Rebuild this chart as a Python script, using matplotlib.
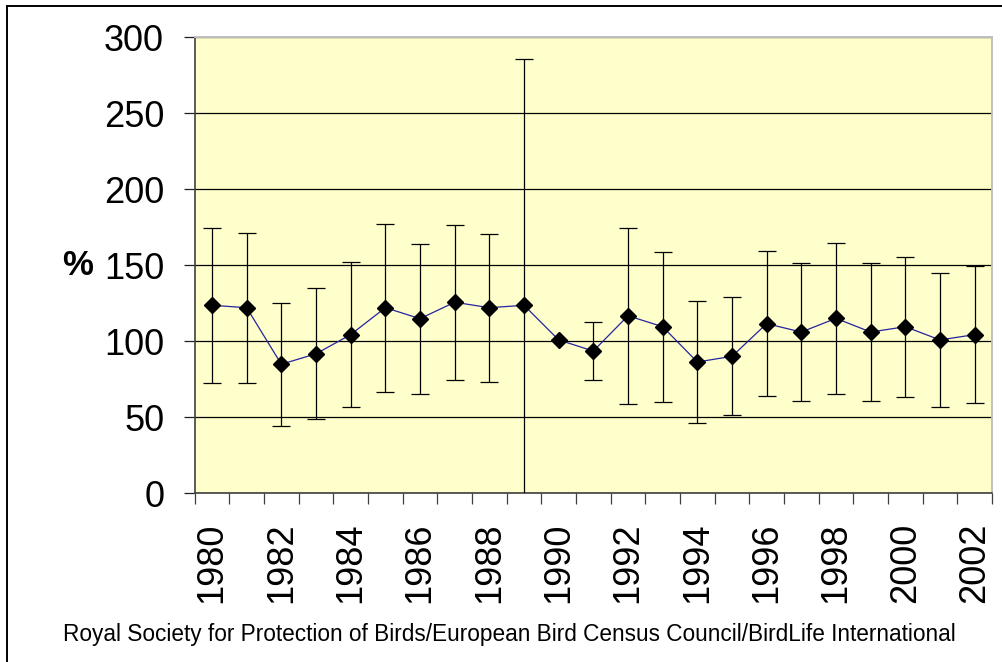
import numpy as np
import matplotlib.pyplot as plt
from matplotlib.lines import Line2D

plt.rcParams['font.family'] = ['Liberation Sans', 'DejaVu Sans']

# Index (%) per year with symmetric confidence range
years = list(range(1980, 2003))
index_pct = [123.7, 122.1, 84.9, 91.8, 104.4, 122.1, 114.9, 125.7, 122.1, 123.7,
             100.9, 93.6, 116.8, 109.6, 86.4, 90.1, 111.6, 106.1, 115.1, 106.1,
             109.6, 100.9, 104.4]
err_pct = [51.0, 49.2, 40.4, 43.2, 47.8, 55.3, 49.4, 51.0, 48.8, 162.2,
           np.nan, 19.3, 58.0, 49.4, 40.0, 38.9, 47.5, 45.2, 49.6, 45.2,
           46.0, 44.2, 45.2]
source = ('Royal Society for Protection of Birds/European Bird Census Council/'
          'BirdLife International')

x = np.arange(len(years))

fig = plt.figure(figsize=(10.02, 6.62), dpi=100)
ax = fig.add_axes([0.1943, 0.2548, 0.7957, 0.6889])
ax.set_facecolor('#ffffcc')

ax.errorbar(x, index_pct, yerr=err_pct, fmt='none', ecolor='black',
            elinewidth=0.9, capsize=6.8, capthick=0.9, zorder=3)
ax.plot(x, index_pct, color='#2424a0', lw=0.9, zorder=4)
ax.plot(x, index_pct, ls='none', marker='D', ms=7.9, color='black', zorder=5)

ax.set_xlim(-0.5, len(years) - 0.5)
ax.set_ylim(0, 300)
ax.set_yticks(range(0, 301, 50))
ax.yaxis.grid(True, color='black', lw=0.9)
ax.set_axisbelow(True)

# ticks sit on category boundaries, labels on every other year
ax.set_xticks(np.arange(-0.5, len(years), 1.0))
ax.set_xticklabels([])
ax.set_xticks(x[::2], minor=True)
ax.set_xticklabels([str(y) for y in years[::2]], minor=True, rotation=90,
                   fontsize=26)
ax.tick_params(axis='x', which='minor', length=0, pad=21)
ax.tick_params(axis='x', which='major', length=8, width=0.9, color='#404040')
ax.tick_params(axis='y', length=8, width=0.9, labelsize=26, pad=14,
               color='#202020')

for s in ['left', 'bottom']:
    ax.spines[s].set_color('#404040')
    ax.spines[s].set_linewidth(1.2)
for s in ['top', 'right']:
    ax.spines[s].set_color('#c0c0c0')
    ax.spines[s].set_linewidth(1.4)

fig.text(0.0775, 0.599, '%', ha='center', va='center', fontsize=25,
         fontweight='bold')
fig.text(0.063, 0.042, source, ha='left', va='center', fontsize=16.3)

# outer frame (top and left edges)
fig.add_artist(Line2D([0.0067, 0.0067], [0, 0.9914], color='black', lw=1.4,
                      transform=fig.transFigure))
fig.add_artist(Line2D([0.0067, 1], [0.9914, 0.9914], color='black', lw=1.4,
                      transform=fig.transFigure))

fig.savefig('out.png', dpi=100)
